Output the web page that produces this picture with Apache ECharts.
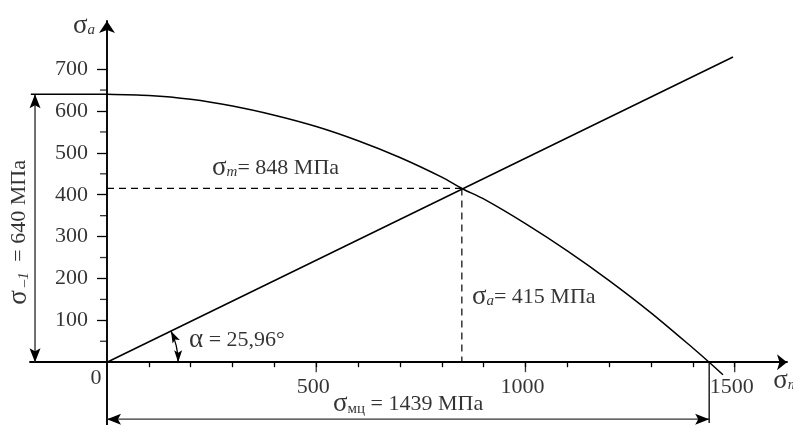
<!DOCTYPE html>
<html>
<head>
<meta charset="utf-8">
<script src="https://cdn.jsdelivr.net/npm/echarts@6/dist/echarts.min.js"></script>
<style>html,body{margin:0;padding:0;background:#fff;}#c{width:793px;height:425px;}</style>
</head>
<body>
<div id="c"></div>
<script>
// ---- data ----
const xTickValues = [100,200,300,400,500,600,700,800,900,1000,1100,1200,1300,1400,1500];
const xLabelValues = [500,1000,1500];
const xMajorTickValues = [500,1000,1500];
const yTickValues = [100,200,300,400,500,600,700];
const yMinorTickValues = [50,150,250,350,450,550,650];
const curveX = [0,100,200,300,400,500,600,700,800,848,900,1000,1100,1200,1300,1400,1439,1472];
const curveY = [640,637,628,612,590,563,529,489,442,415,390,331,266,195,118,34,0,-30];
const rayX = [0,1496];
const rayY = [0,729];
const sigmaM = 848;      // MPa
const sigmaA = 415;      // MPa
const sigmaMC = 1439;    // MPa
const sigmaM1 = 640;     // MPa
const alphaDeg = 25.96;  // degrees
// annotation texts and anchor points (data units)
const annotTexts = [
  '{s|σ}{i|a}',
  '{s|σ}{j|–1}{n| = 640 МПа}',
  '{s|σ}{i|m}{n|= 848 МПа}',
  '{s|σ}{i|a}{n|= 415 МПа}',
  '{s|α}{n| = 25,96°}',
  '{n|0}',
  '{s|σ}{i|m}',
  '{s|σ}{u|мц}{n| = 1439 МПа}'
];
const annotX = [-55, -210, 251, 872, 196, -26, 1592, 540];
const annotY = [803, 310, 464, 156, 53, -38, -45, -100];

// ---- chart ----
const FONT = "'Liberation Serif','Times New Roman',serif";
const INK = '#000';
const chart = echarts.init(document.getElementById('c'), null, {renderer: 'canvas'});

const rich = {
  n: {fontFamily: FONT, fontSize: 22, color: INK, lineHeight: 24},
  s: {fontFamily: FONT, fontSize: 27, color: INK, lineHeight: 24},
  i: {fontFamily: FONT, fontSize: 15, fontStyle: 'italic', color: INK, lineHeight: 14, verticalAlign: 'bottom'},
  j: {fontFamily: FONT, fontSize: 15, fontStyle: 'italic', color: INK, lineHeight: 14, verticalAlign: 'bottom',
      padding: [0, 5, 0, 3]},
  u: {fontFamily: FONT, fontSize: 15, color: INK, lineHeight: 14, verticalAlign: 'bottom'}
};
const annotAlign = ['center','center','left','left','left','center','left','left'];
const annotRotate = [0,90,0,0,0,0,0,0];

function zip(a, b) { return a.map((v, k) => [v, b[k]]); }

function arrowHead(tip, dir, L, W) {
  const dx = dir[0], dy = dir[1];
  const nx = -dy, ny = dx;
  return [
    [tip[0], tip[1]],
    [tip[0] - L*dx + W/2*nx, tip[1] - L*dy + W/2*ny],
    [tip[0] - 0.78*L*dx, tip[1] - 0.78*L*dy],
    [tip[0] - L*dx - W/2*nx, tip[1] - L*dy - W/2*ny]
  ];
}
function unit(a, b) {
  const dx = b[0]-a[0], dy = b[1]-a[1];
  const l = Math.sqrt(dx*dx+dy*dy) || 1;
  return [dx/l, dy/l];
}

// dimension lines: [x1,y1,x2,y2]
const dimData = [
  [-172, sigmaM1, -172, 0],
  [0, -136, sigmaMC, -136]
];

function renderDim(params, api) {
  const p1 = api.coord([api.value(0), api.value(1)]);
  const p2 = api.coord([api.value(2), api.value(3)]);
  const d12 = unit(p1, p2), d21 = unit(p2, p1);
  return {
    type: 'group',
    children: [
      {type: 'line', shape: {x1: p1[0], y1: p1[1], x2: p2[0], y2: p2[1]},
       style: {stroke: '#333', lineWidth: 1.4}},
      {type: 'polygon', shape: {points: arrowHead(p1, d21, 14, 11)}, style: {fill: INK}},
      {type: 'polygon', shape: {points: arrowHead(p2, d12, 14, 11)}, style: {fill: INK}}
    ]
  };
}

function renderArc(params, api) {
  const c = api.coord([api.value(0), api.value(1)]);
  const r = api.size([api.value(2), 0])[0];
  const a = api.value(3) * Math.PI / 180;
  const t0 = [c[0] + r, c[1]];
  const t1 = [c[0] + r*Math.cos(-a), c[1] + r*Math.sin(-a)];
  const dir0 = [0, 1];
  const dir1 = [Math.sin(-a), -Math.cos(-a)];
  return {
    type: 'group',
    children: [
      {type: 'arc', shape: {cx: c[0], cy: c[1], r: r, startAngle: -a, endAngle: 0, clockwise: true},
       style: {stroke: INK, lineWidth: 1.3, fill: null}},
      {type: 'polygon', shape: {points: arrowHead(t0, dir0, 12, 8)}, style: {fill: INK}},
      {type: 'polygon', shape: {points: arrowHead(t1, dir1, 12, 8)}, style: {fill: INK}}
    ]
  };
}

const tickFont = {fontFamily: FONT, fontSize: 22, color: INK};

const option = {
  animation: false,
  grid: {left: 30, right: 6, top: 21, bottom: 0, containLabel: false, outerBoundsMode: 'none'},
  xAxis: {
    type: 'value', min: -184, max: 1625,
    axisLine: {onZero: true, symbol: ['none', 'arrow'], symbolSize: [12, 10],
               lineStyle: {color: INK, width: 1.9}},
    axisTick: {show: true, customValues: xTickValues, length: 5, lineStyle: {color: INK, width: 1.3}},
    axisLabel: {show: false},
    splitLine: {show: false}
  },
  yAxis: {
    type: 'value', min: -150, max: 815,
    axisLine: {onZero: true, symbol: ['none', 'arrow'], symbolSize: [12, 12],
               lineStyle: {color: INK, width: 1.9}},
    axisTick: {show: true, customValues: yTickValues, length: 10, lineStyle: {color: INK, width: 1.3}},
    axisLabel: {show: false},
    splitLine: {show: false}
  },
  series: [
    {type: 'line', data: zip(curveX, curveY), showSymbol: false, smooth: 0.3, clip: false,
     lineStyle: {color: INK, width: 1.5}},
    {type: 'line', data: zip(rayX, rayY), showSymbol: false, clip: false,
     lineStyle: {color: INK, width: 1.5}},
    {type: 'line', data: [[0, sigmaA], [sigmaM, sigmaA]], showSymbol: false,
     lineStyle: {color: INK, width: 1.2, type: [7, 5]}},
    {type: 'line', data: [[sigmaM, sigmaA], [sigmaM, 0]], showSymbol: false,
     lineStyle: {color: INK, width: 1.2, type: [7, 5]}},
    {type: 'line', data: [[-182, sigmaM1], [0, sigmaM1]], showSymbol: false, clip: false,
     lineStyle: {color: INK, width: 1.3}},
    {type: 'line', data: [[sigmaMC, 0], [sigmaMC, -145]], showSymbol: false, clip: false,
     lineStyle: {color: INK, width: 1.3}},
    // minor ticks on the y axis
    {type: 'scatter', data: yMinorTickValues.map(v => [0, v]), symbol: 'rect',
     symbolSize: [7, 1.3], symbolOffset: [-3.5, 0], itemStyle: {color: INK}, silent: true},
    // longer ticks on the x axis
    {type: 'scatter', data: xMajorTickValues.map(v => [v, 0]), symbol: 'rect',
     symbolSize: [1.3, 10], symbolOffset: [0, 5], itemStyle: {color: INK}, silent: true},
    // x tick labels
    {type: 'scatter', data: xLabelValues.map(v => [v, 0]), symbolSize: 1, clip: false, silent: true,
     itemStyle: {color: 'rgba(0,0,0,0)'},
     label: {show: true, position: 'inside', offset: [-3, 25], align: 'center', verticalAlign: 'middle',
             formatter: p => String(p.value[0]), ...tickFont}},
    // y tick labels
    {type: 'scatter', data: yTickValues.map(v => [0, v]), symbolSize: 1, clip: false, silent: true,
     itemStyle: {color: 'rgba(0,0,0,0)'},
     label: {show: true, position: 'inside', offset: [-19, 0], align: 'right', verticalAlign: 'middle',
             formatter: p => String(p.value[1]), ...tickFont}},
    {type: 'custom', renderItem: renderDim, data: dimData, clip: false, silent: true,
     encode: {x: [0, 2], y: [1, 3]}},
    {type: 'custom', renderItem: renderArc, data: [[0, 0, 170, alphaDeg]], clip: false, silent: true,
     encode: {x: 0, y: 1}},
    {type: 'scatter', clip: false, silent: true, symbolSize: 1,
     itemStyle: {color: 'rgba(0,0,0,0)'},
     data: annotTexts.map((t, k) => ({
       value: [annotX[k], annotY[k]],
       label: {show: true, position: 'inside', formatter: t, rich: rich,
               align: annotAlign[k], verticalAlign: 'middle', rotate: annotRotate[k]}
     }))}
  ]
};
chart.setOption(option);
</script>
</body>
</html>
